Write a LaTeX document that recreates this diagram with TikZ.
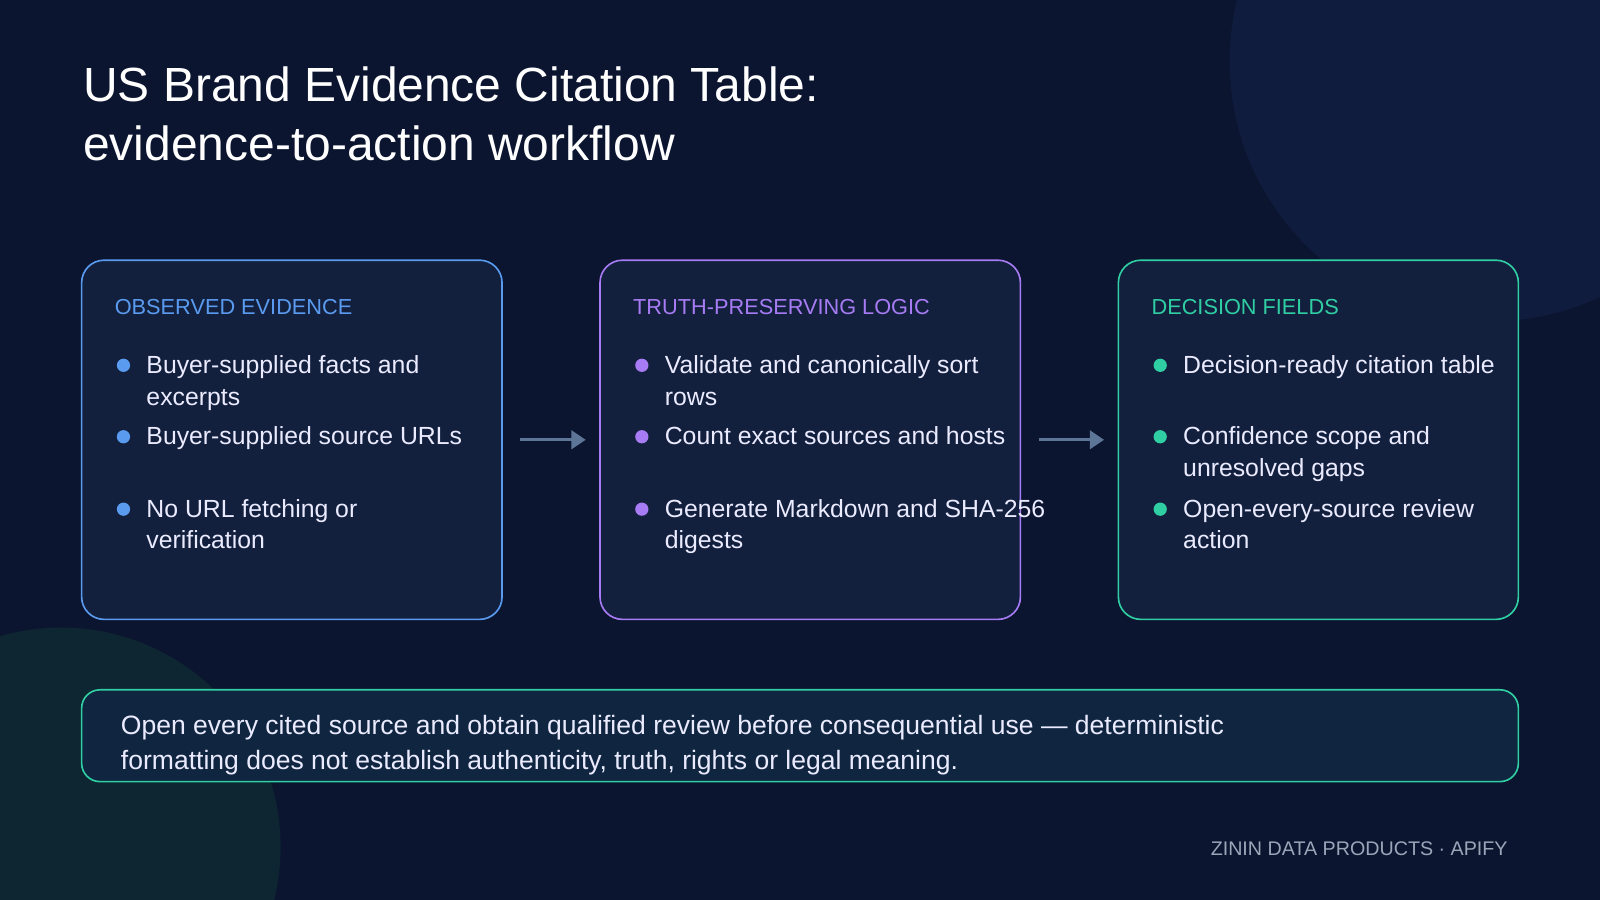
\documentclass[tikz,border=0pt]{standalone}
\usepackage{fontspec}
\setmainfont{Liberation Sans}
\usetikzlibrary{arrows.meta}
\definecolor{bg}{HTML}{0B1530}
\definecolor{cardfill}{HTML}{12203E}
\definecolor{cblue}{HTML}{5A9BF0}
\definecolor{cpurple}{HTML}{A77BF3}
\definecolor{cgreen}{HTML}{2FCFA3}
\definecolor{arrowc}{HTML}{5D7597}
\definecolor{foot}{HTML}{9AA6B8}
\definecolor{circA}{HTML}{0F1C3E}
\definecolor{circB}{HTML}{0E2532}
\definecolor{notefill}{HTML}{102640}
\begin{document}
\begin{tikzpicture}[x=1pt,y=-1pt,
  card/.style={rounded corners=22pt,line width=1.6pt,fill=cardfill},
  head/.style={anchor=base west,font=\fontsize{21.3}{25}\selectfont},
  txt/.style={anchor=base west,text=white!92!blue,font=\fontsize{24.3}{31}\selectfont,align=left},
  arr/.style={line width=3pt,draw=arrowc,-{Triangle[length=14pt,width=18pt]}}]
\useasboundingbox (0,0) rectangle (1568,882);
\fill[bg] (0,0) rectangle (1568,882);
\begin{scope}
\clip (0,0) rectangle (1568,882);
\fill[circA] (1460,60) circle (255);
\fill[circB] (60,830) circle (215);
\end{scope}
\node[anchor=base west,text=white,font=\fontsize{47}{58}\selectfont,align=left] (title) at (78,157) {US Brand Evidence Citation Table:\\evidence-to-action workflow};
% cards
\draw[card,draw=cblue] (80,255) rectangle (492,607);
\draw[card,draw=cpurple] (588,255) rectangle (1000,607);
\draw[card,draw=cgreen] (1096,255) rectangle (1488,607);
\node[head,text=cblue] (h1) at (109,308) {OBSERVED EVIDENCE};
\node[head,text=cpurple] (h2) at (617,308) {TRUTH-PRESERVING LOGIC};
\node[head,text=cgreen] (h3) at (1125,308) {DECISION FIELDS};
\foreach \x/\c in {121/cblue,629/cpurple,1137/cgreen}{
  \foreach \y in {358,428,499} \fill[\c] (\x,\y) circle (6.5);}
\node[txt] (a1) at (140,397) {Buyer-supplied facts and\\excerpts};
\node[txt] (a2) at (140,436) {Buyer-supplied source URLs};
\node[txt] (a3) at (140,538) {No URL fetching or\\verification};
\node[txt] (b1) at (648,397) {Validate and canonically sort\\rows};
\node[txt] (b2) at (648,436) {Count exact sources and hosts};
\node[txt] (b3) at (648,538) {Generate Markdown and SHA-256\\digests};
\node[txt] (c1) at (1156,366) {Decision-ready citation table};
\node[txt] (c2) at (1156,467) {Confidence scope and\\unresolved gaps};
\node[txt] (c3) at (1156,538) {Open-every-source review\\action};
\coordinate (p1) at (510,431); \coordinate (p2) at (574,431);
\coordinate (q1) at (1018,431); \coordinate (q2) at (1082,431);
\draw[arr] (p1) -- (p2);
\draw[arr] (q1) -- (q2);
% bottom
\draw[rounded corners=18pt,line width=1.6pt,draw=cgreen,fill=notefill] (80,676) rectangle (1488,766);
\node[txt,font=\fontsize{26}{34}\selectfont] (note) at (115,754) {Open every cited source and obtain qualified review before consequential use --- deterministic\\formatting does not establish authenticity, truth, rights or legal meaning.};
\node[anchor=base east,text=foot,font=\fontsize{19.3}{23}\selectfont] (footer) at (1481,838) {ZININ DATA PRODUCTS · APIFY};
\end{tikzpicture}
\end{document}
